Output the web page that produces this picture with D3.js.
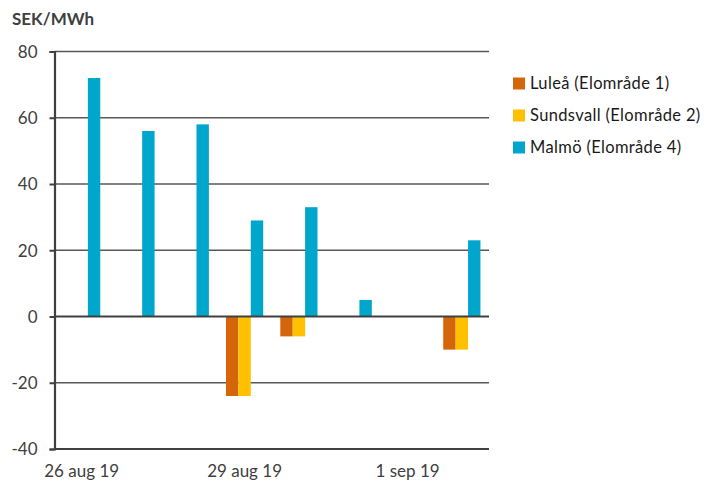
<!DOCTYPE html>
<html><head><meta charset="utf-8">
<script src="https://cdn.jsdelivr.net/npm/d3@7"></script>
<style>
body{margin:0;background:#fff;}
svg{display:block;font-family:Lato,"Open Sans",sans-serif;}
</style></head>
<body><div id="chart"></div>
<script>
const categories = ["26 aug 19","27 aug 19","28 aug 19","29 aug 19","30 aug 19","31 aug 19","1 sep 19","2 sep 19"];
const tickLabels = ["26 aug 19","29 aug 19","1 sep 19"];
const seriesNames = ["Luleå (Elområde 1)","Sundsvall (Elområde 2)","Malmö (Elområde 4)"];
const seriesColors = ["#d4650a","#ffc000","#00a6cb"];
const lulea = [0,0,0,-24,-6,0,0,-10];
const sundsvall = [0,0,0,-24,-6,0,0,-10];
const malmo = [72,56,58,29,33,5,0,23];
const yTicks = [-40,-20,0,20,40,60,80];

const W=711,H=486;
const m={left:54.5,right:222,top:51.5,bottom:37};
const svg=d3.select("#chart").append("svg").attr("width",W).attr("height",H);
const iw=W-m.left-m.right, ih=H-m.top-m.bottom;
const g=svg.append("g").attr("transform",`translate(${m.left},${m.top})`);

const x0=d3.scaleBand().domain(categories).range([0,iw]).padding(0);
const groupW=x0.bandwidth()*0.685;
const x1=d3.scaleBand().domain(seriesNames).range([-groupW/2,groupW/2]).padding(0);
const y=d3.scaleLinear().domain([-40,80]).range([ih,0]);

// gridlines
g.selectAll(".grid").data(yTicks.filter(v=>v!==-40&&v!==0)).enter().append("line")
 .attr("x1",0).attr("x2",iw).attr("y1",d=>y(d)).attr("y2",d=>y(d))
 .attr("stroke","#595959").attr("stroke-width",1.3);

const data=[lulea,sundsvall,malmo];
data.forEach((vals,si)=>{
  g.selectAll(".b"+si).data(vals.map((v,i)=>({v,c:categories[i]})).filter(d=>d.v!==0)).enter().append("rect")
   .attr("x",d=>x0(d.c)+x0.bandwidth()/2+x1(seriesNames[si]))
   .attr("width",x1.bandwidth())
   .attr("y",d=>y(Math.max(0,d.v)))
   .attr("height",d=>Math.abs(y(d.v)-y(0)))
   .attr("fill",seriesColors[si]);
});

// zero line
g.append("line").attr("x1",0).attr("x2",iw).attr("y1",y(0)).attr("y2",y(0))
 .attr("stroke","#404040").attr("stroke-width",2.2);
// bottom axis line
g.append("line").attr("x1",0).attr("x2",iw).attr("y1",y(-40)).attr("y2",y(-40))
 .attr("stroke","#404040").attr("stroke-width",2);

// y axis
const ya=g.append("g").call(d3.axisLeft(y).tickValues(yTicks).tickSize(5).tickPadding(12).tickFormat(d3.format("d")));
ya.select(".domain").attr("stroke","#404040").attr("stroke-width",2.2);
ya.selectAll(".tick line").attr("stroke","#404040").attr("stroke-width",2);
ya.selectAll("text").attr("font-size",17).attr("fill","#404040").attr("font-family","Lato,'Open Sans',sans-serif").attr("dy","0.34em");
ya.selectAll("text").text(d=>d<0?"-"+Math.abs(d):d);

// x labels
g.selectAll(".xl").data(tickLabels).enter().append("text")
 .attr("x",d=>x0(d)+x0.bandwidth()/2).attr("y",ih+28)
 .attr("text-anchor","middle").attr("font-size",17).attr("fill","#404040").text(d=>d);

// unit title
svg.append("text").attr("x",12).attr("y",25).attr("font-size",17).attr("font-weight","bold").attr("fill","#404040").text("SEK/MWh");

// legend
const lg=svg.append("g").attr("transform","translate(513,77.5)");
seriesNames.forEach((n,i)=>{
  const r=lg.append("g").attr("transform",`translate(0,${i*32})`);
  r.append("rect").attr("x",0).attr("y",0).attr("width",12).attr("height",12).attr("fill",seriesColors[i]);
  r.append("text").attr("x",17).attr("y",11.5).attr("font-size",16.5).attr("letter-spacing",0.35).attr("fill","#1a1a1a").text(n);
});
</script></body></html>
